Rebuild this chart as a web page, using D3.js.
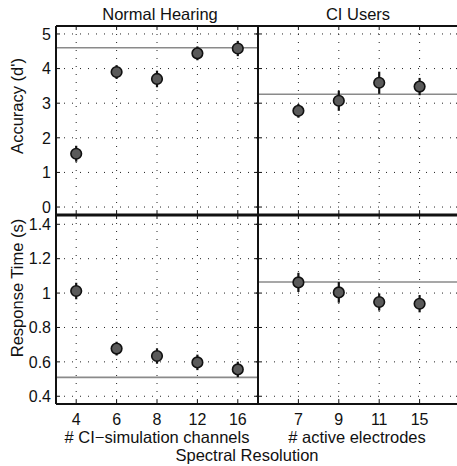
<!DOCTYPE html>
<html>
<head>
<meta charset="utf-8">
<script src="https://cdn.jsdelivr.net/npm/d3@7"></script>
<style>
  body { margin: 0; background: #fff; }
  text { font-family: "Liberation Sans", Arial, sans-serif; fill: #111; }
</style>
</head>
<body>
<div id="viz"></div>
<script>
(function() {

// Category labels for each group
const nhChannels = ["4", "6", "8", "12", "16"];
const ciElectrodes = ["7", "9", "11", "15"];

// Accuracy (d') means and error half-widths
const nhAccuracy = [1.54, 3.90, 3.70, 4.44, 4.58];
const nhAccuracyErr = [0.23, 0.20, 0.24, 0.20, 0.22];
const ciAccuracy = [2.78, 3.07, 3.59, 3.48];
const ciAccuracyErr = [0.20, 0.29, 0.32, 0.25];

// Response time (s) means and error half-widths
const nhRT = [1.012, 0.677, 0.634, 0.597, 0.556];
const nhRTErr = [0.048, 0.040, 0.045, 0.045, 0.045];
const ciRT = [1.062, 1.004, 0.948, 0.938];
const ciRTErr = [0.056, 0.060, 0.050, 0.050];

// Horizontal reference lines (unprocessed / baseline)
const accuracyRef = [4.60, 3.26];
const rtRef = [0.51, 1.064];

const accuracyTicks = [0, 1, 2, 3, 4, 5];
const rtTicks = [0.4, 0.6, 0.8, 1, 1.2, 1.4];

let canvasWidth = 457;
let canvasHeight = 466;
let left = 56;
let panelWidth = 202;
let top = 26;
let mid = 215;
let bottom = 404;

let svg = d3.select("#viz").append("svg")
  .attr("width", canvasWidth)
  .attr("height", canvasHeight);

let xLeft = d3.scaleLinear().domain([0.5, 5.5]).range([left, left + panelWidth]);
let xRight = d3.scaleLinear().domain([0, 5]).range([left + panelWidth, left + 2 * panelWidth]);
let yAcc = d3.scaleLinear().domain([-0.23, 5.23]).range([mid, top]);
let yRT = d3.scaleLinear().domain([0.355, 1.454]).range([bottom, mid]);

function drawPanel(x, y, cats, offset, yTicks, means, errs, ref) {
  let g = svg.append("g");
  let x0 = x.range()[0], x1 = x.range()[1];
  let y0 = y.range()[1], y1 = y.range()[0];
  let xs = cats.map((c, i) => x(i + offset));

  // dotted grid
  g.selectAll(".gy").data(yTicks).enter().append("line")
    .attr("x1", x0).attr("x2", x1)
    .attr("y1", (d) => y(d)).attr("y2", (d) => y(d))
    .attr("stroke", "#222").attr("stroke-width", 1)
    .attr("stroke-dasharray", "1,7");
  g.selectAll(".gx").data(xs).enter().append("line")
    .attr("x1", (d) => d).attr("x2", (d) => d)
    .attr("y1", y0).attr("y2", y1)
    .attr("stroke", "#222").attr("stroke-width", 1)
    .attr("stroke-dasharray", "1,7");

  // inward ticks
  let tl = 4;
  yTicks.forEach((t) => {
    g.append("line").attr("x1", x0).attr("x2", x0 + tl)
      .attr("y1", y(t)).attr("y2", y(t)).attr("stroke", "#111");
    g.append("line").attr("x1", x1).attr("x2", x1 - tl)
      .attr("y1", y(t)).attr("y2", y(t)).attr("stroke", "#111");
  });
  xs.forEach((px) => {
    g.append("line").attr("x1", px).attr("x2", px)
      .attr("y1", y0).attr("y2", y0 + tl).attr("stroke", "#111");
    g.append("line").attr("x1", px).attr("x2", px)
      .attr("y1", y1).attr("y2", y1 - tl).attr("stroke", "#111");
  });

  // reference line
  g.append("line")
    .attr("x1", x0).attr("x2", x1)
    .attr("y1", y(ref)).attr("y2", y(ref))
    .attr("stroke", "#8a8a8a").attr("stroke-width", 1.6);

  // error bars
  g.selectAll(".err").data(means).enter().append("line")
    .attr("x1", (d, i) => xs[i]).attr("x2", (d, i) => xs[i])
    .attr("y1", (d, i) => y(d - errs[i]))
    .attr("y2", (d, i) => y(d + errs[i]))
    .attr("stroke", "#111").attr("stroke-width", 2.2);

  // markers
  g.selectAll(".pt").data(means).enter().append("circle")
    .attr("cx", (d, i) => xs[i])
    .attr("cy", (d) => y(d))
    .attr("r", 5.3)
    .attr("fill", "#5a5a5a")
    .attr("stroke", "#111")
    .attr("stroke-width", 1.6);
}

drawPanel(xLeft, yAcc, nhChannels, 1, accuracyTicks, nhAccuracy, nhAccuracyErr, accuracyRef[0]);
drawPanel(xRight, yAcc, ciElectrodes, 1, accuracyTicks, ciAccuracy, ciAccuracyErr, accuracyRef[1]);
drawPanel(xLeft, yRT, nhChannels, 1, rtTicks, nhRT, nhRTErr, rtRef[0]);
drawPanel(xRight, yRT, ciElectrodes, 1, rtTicks, ciRT, ciRTErr, rtRef[1]);

// frame lines
let frame = svg.append("g").attr("stroke", "#111").attr("fill", "none");
frame.append("line").attr("x1", left).attr("x2", canvasWidth + 5)
  .attr("y1", top).attr("y2", top).attr("stroke-width", 2);
frame.append("line").attr("x1", left).attr("x2", canvasWidth + 5)
  .attr("y1", bottom).attr("y2", bottom).attr("stroke-width", 2);
frame.append("line").attr("x1", left).attr("x2", canvasWidth + 5)
  .attr("y1", mid).attr("y2", mid).attr("stroke-width", 3);
frame.append("line").attr("x1", left).attr("x2", left)
  .attr("y1", top).attr("y2", bottom).attr("stroke-width", 2);
frame.append("line").attr("x1", left + panelWidth).attr("x2", left + panelWidth)
  .attr("y1", top).attr("y2", bottom).attr("stroke-width", 2);

// y tick labels
svg.append("g").selectAll("text").data(accuracyTicks).enter().append("text")
  .attr("x", left - 5).attr("y", (d) => yAcc(d)).attr("dy", "0.36em")
  .attr("text-anchor", "end").style("font-size", "16px")
  .text((d) => d);
svg.append("g").selectAll("text").data(rtTicks).enter().append("text")
  .attr("x", left - 5).attr("y", (d) => yRT(d)).attr("dy", "0.36em")
  .attr("text-anchor", "end").style("font-size", "16px")
  .text((d) => d === 1 ? "1" : d3.format(".1f")(d));

// x tick labels
svg.append("g").selectAll("text").data(nhChannels).enter().append("text")
  .attr("x", (d, i) => xLeft(i + 1)).attr("y", 425)
  .attr("text-anchor", "middle").style("font-size", "16px")
  .text((d) => d);
svg.append("g").selectAll("text").data(ciElectrodes).enter().append("text")
  .attr("x", (d, i) => xRight(i + 1)).attr("y", 425)
  .attr("text-anchor", "middle").style("font-size", "16px")
  .text((d) => d);

// titles and axis labels
svg.append("text").attr("x", 160).attr("y", 20).attr("text-anchor", "middle")
  .style("font-size", "16.5px").text("Normal Hearing");
svg.append("text").attr("x", 358).attr("y", 20).attr("text-anchor", "middle")
  .style("font-size", "16.5px").text("CI Users");
svg.append("text").attr("x", 157).attr("y", 443).attr("text-anchor", "middle")
  .style("font-size", "16.5px").text("# CI\u2212simulation channels");
svg.append("text").attr("x", 357).attr("y", 443).attr("text-anchor", "middle")
  .style("font-size", "16.5px").text("# active electrodes");
svg.append("text").attr("x", 247).attr("y", 461).attr("text-anchor", "middle")
  .style("font-size", "16.5px").text("Spectral Resolution");
svg.append("text").attr("transform", "translate(23,106) rotate(-90)")
  .attr("text-anchor", "middle").style("font-size", "16.5px").text("Accuracy (d')");
svg.append("text").attr("transform", "translate(23,288) rotate(-90)")
  .attr("text-anchor", "middle").style("font-size", "16.5px").text("Response Time (s)");

})();
</script>
</body>
</html>
